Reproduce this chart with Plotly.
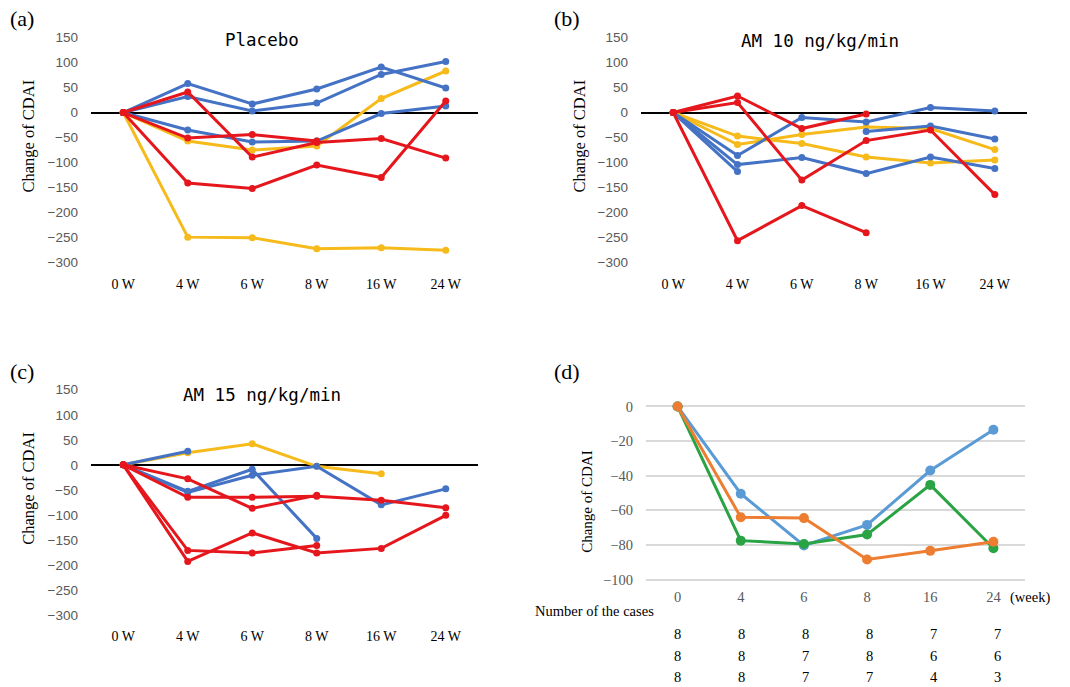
import plotly.graph_objects as go

# ---------------- data ----------------
weeks = ["0 W", "4 W", "6 W", "8 W", "16 W", "24 W"]
weeks_d = ["0", "4", "6", "8", "16", "24"]

placebo_blue = [[0, 58, 17, 47, 91, 49], [0, 32, 3, 19, 76, 102], [0, -35, -59, -57, -2, 13]]
placebo_red = [[0, 41, -89, -60, -52, -91], [0, -51, -44, -57, None, None], [0, -141, -152, -105, -130, 23]]
placebo_yellow = [[0, -57, -75, -67, 28, 83], [0, -249, -250, -272, -270, -275]]

am10_blue = [[0, -86, -10, -19, 10, 3], [0, -104, -90, -122, -89, -112], [0, -118, None, -38, -27, -53]]
am10_red = [[0, 33, -32, -3, None, None], [0, 20, -135, -56, -35, -164], [0, -256, -186, -240, None, None]]
am10_yellow = [[0, -47, -62, -89, -101, -95], [0, -64, -44, -29, -32, -74]]

am15_blue = [[0, 27, None, None, None, None], [0, -53, -9, -147, None, None], [0, -55, -21, -3, -80, -48]]
am15_red = [[0, -28, -87, -61, None, None], [0, -65, -65, -63, -71, -86],
            [0, -171, -176, -161, None, None], [0, -193, -136, -176, -167, -101]]
am15_yellow = [[0, 24, 42, -3, -18, None]]

mean_placebo = [0, -50.4, -80.3, -68.4, -37.0, -13.5]
mean_am10 = [0, -77.5, -79.4, -74.0, -45.3, -81.9]
mean_am15 = [0, -64.0, -64.5, -88.4, -83.4, -78.2]

cases_placebo = [8, 8, 8, 8, 7, 7]
cases_am10 = [8, 8, 7, 8, 6, 6]
cases_am15 = [8, 8, 7, 7, 4, 3]

titles = ["Placebo", "AM 10 ng/kg/min", "AM 15 ng/kg/min"]

# ---------------- style ----------------
W, H = 1070, 687
K = 0.989          # vertical compensation observed in the capture
BLUE, RED, YEL = "#4472C4", "#E5171D", "#F6BA1A"
D_BLUE, D_GREEN, D_ORANGE = "#5B9BD5", "#2AA344", "#ED7D31"
SERIF = "Liberation Serif, Times New Roman, serif"
SANS = "Liberation Sans, Arial, sans-serif"
MONO = "DejaVu Sans Mono, monospace"


def px_x(p):
    return p / W


def px_y(p):
    return (H - p) / (K * H)


fig = go.Figure()

panels = [
    ("x", "y", placebo_blue, placebo_red, placebo_yellow),
    ("x2", "y2", am10_blue, am10_red, am10_yellow),
    ("x3", "y3", am15_blue, am15_red, am15_yellow),
]

for xa, ya, blues, reds, yels in panels:
    for group, col in ((yels, YEL), (blues, BLUE), (reds, RED)):
        for s in group:
            fig.add_trace(go.Scatter(
                x=weeks, y=s, xaxis=xa, yaxis=ya, mode="lines+markers",
                line=dict(color=col, width=3), marker=dict(color=col, size=7),
                connectgaps=False, showlegend=False, cliponaxis=False,
            ))

for s, col in ((mean_placebo, D_BLUE), (mean_am10, D_GREEN), (mean_am15, D_ORANGE)):
    fig.add_trace(go.Scatter(
        x=weeks_d, y=s, xaxis="x4", yaxis="y4", mode="lines+markers",
        line=dict(color=col, width=3), marker=dict(color=col, size=10),
        showlegend=False, cliponaxis=False,
    ))


# ---------------- axes ----------------
def xax(dom, anchor, font):
    return dict(domain=dom, anchor=anchor, type="category", range=[-0.5, 5.5],
                showgrid=False, showline=False, zeroline=False, ticks="",
                tickfont=font, fixedrange=True)


def yax_abc(dom, anchor):
    return dict(domain=dom, anchor=anchor, range=[-322, 152], dtick=50, tick0=0,
                showgrid=False, showline=False, zeroline=True, zerolinecolor="black",
                zerolinewidth=2, ticks="", ticklabelstandoff=12,
                tickfont=dict(family=SANS, size=13.5, color="#595959"))


xfont = dict(family=SERIF, size=14, color="black")
ab_y = [px_y(275), px_y(38)]
c_y = [px_y(627), px_y(390)]
left_x = [px_x(91), px_x(478)]
right_x = [px_x(641), px_x(1027)]

fig.update_layout(
    xaxis=xax(left_x, "y", xfont), yaxis=yax_abc(ab_y, "x"),
    xaxis2=xax(right_x, "y2", xfont), yaxis2=yax_abc(ab_y, "x2"),
    xaxis3=xax(left_x, "y3", xfont), yaxis3=yax_abc(c_y, "x3"),
    xaxis4=xax([px_x(646), px_x(1025)], "y4", dict(family=SERIF, size=14.5, color="#595959")),
    yaxis4=dict(domain=[px_y(587.6), px_y(404.2)], anchor="x4", range=[-104, 2],
                dtick=20, tick0=0, showgrid=True, gridcolor="#D9D9D9", gridwidth=1.5,
                zeroline=False, showline=False, ticks="", ticklabelstandoff=12,
                tickfont=dict(family=SERIF, size=14.5, color="#595959")),
)

# ---------------- text ----------------
ann = []


def add_text(text, cx, cy, size, family=SERIF, color="black", angle=0, xanchor="center"):
    ann.append(dict(text=text, x=px_x(cx), y=px_y(cy), xref="paper", yref="paper",
                    xanchor=xanchor, yanchor="middle", textangle=angle, showarrow=False,
                    font=dict(family=family, size=size, color=color)))


for t, (cx, cy) in zip(titles, [(262, 42), (820, 43), (262, 396)]):
    add_text(t, cx, cy, 17.5, family=MONO)

for (cx, cy, sz) in [(29, 138, 16.5), (580, 138, 16.5), (29, 490, 16.5), (587, 503, 15)]:
    add_text("Change of CDAI", cx, cy, sz, angle=-90)

for lab, (cx, cy) in zip(["(a)", "(b)", "(c)", "(d)"], [(22, 20), (567, 20), (22, 373), (567, 373)]):
    add_text(lab, cx, cy, 22)

add_text("(week)", 1008, 599, 14.5, xanchor="left")
add_text("Number of the cases", 533, 612, 14.5, xanchor="left")

for row, cy in zip([cases_placebo, cases_am10, cases_am15], [635, 657, 678]):
    for i, v in enumerate(row):
        ann.append(dict(text=str(v), x=i, y=px_y(cy), xref="x4", yref="paper",
                        xanchor="center", yanchor="middle", xshift=i * 0.9, showarrow=False,
                        font=dict(family=SERIF, size=14.5, color="black")))

fig.update_layout(
    annotations=ann, width=W, height=H, margin=dict(l=0, r=0, t=0, b=0),
    paper_bgcolor="white", plot_bgcolor="white", showlegend=False,
)

pin = ("document.body.style.margin='0';document.body.style.overflow='hidden';"
       "var d=document.getElementById('{plot_id}');d.style.position='fixed';"
       "d.style.left='0px';d.style.top='0px';")
fig.write_html("out.html", config={"displayModeBar": False}, post_script=pin)
